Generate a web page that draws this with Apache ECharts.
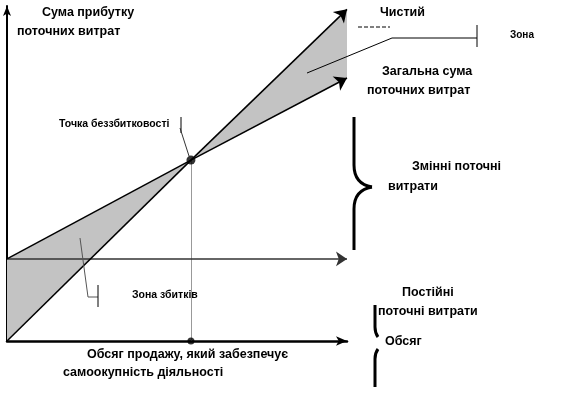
<!DOCTYPE html>
<html>
<head>
<meta charset="utf-8">
<script src="https://cdn.jsdelivr.net/npm/echarts@6/dist/echarts.min.js"></script>
<style>html,body{margin:0;padding:0;background:#fff}#c{width:581px;height:397px}</style>
</head>
<body>
<div id="c"></div>
<script>
// Data (volume in arbitrary units, amounts in arbitrary units)
var volume = [0, 5.41, 10];
var revenue = [0, 54, 99];
var totalCost = [24.5, 54, 78.5];
var fixedCost = [24.5, 24.5, 24.5];
var breakEven = [5.41, 54];

function pts(xs, ys) { return xs.map(function (x, i) { return [x, ys[i]]; }); }
function seg(xs, ys, i) { return { coords: [[xs[i], ys[i]], [xs[i + 1], ys[i + 1]]] }; }

var FONT = '"Liberation Sans", Arial, sans-serif';
function txt(x, y, s, size) {
  return { type: 'text', x: x, y: y, z: 10,
    style: { text: s, font: 'bold ' + (size || 12.5) + 'px ' + FONT, fill: '#000', verticalAlign: 'middle', align: 'left' } };
}
function pl(points, w, color, dash) {
  return { type: 'polyline', z: 10, shape: { points: points },
    style: { stroke: color || '#000', lineWidth: w || 1, fill: null, lineDash: dash || null } };
}
function bz(x1, y1, cx, cy, x2, y2, w) {
  return { type: 'bezierCurve', z: 10, shape: { x1: x1, y1: y1, cpx1: cx, cpy1: cy, x2: x2, y2: y2 },
    style: { stroke: '#000', lineWidth: w || 3, fill: null } };
}

var chart = echarts.init(document.getElementById('c'));
chart.setOption({
  animation: false,
  grid: { left: 7, right: 234, top: 6, bottom: 56 },
  xAxis: { type: 'value', min: 0, max: 10,
    axisLine: { show: true, onZero: false, symbol: ['none', 'arrow'], symbolSize: [7, 11],
      lineStyle: { color: '#000', width: 2.5 } },
    axisTick: { show: false }, axisLabel: { show: false }, splitLine: { show: false } },
  yAxis: { type: 'value', min: 0, max: 100,
    axisLine: { show: true, onZero: false, symbol: ['none', 'arrow'], symbolSize: [6, 10],
      lineStyle: { color: '#000', width: 2 } },
    axisTick: { show: false }, axisLabel: { show: false }, splitLine: { show: false } },
  series: [
    { type: 'custom', z: 1, data: [0],
      renderItem: function (params, api) {
        var rL = api.coord(pts(volume, revenue)[0]), cL = api.coord(pts(volume, totalCost)[0]);
        var b = api.coord(breakEven);
        var rR = api.coord(pts(volume, revenue)[2]), cR = api.coord(pts(volume, totalCost)[2]);
        var st = { fill: '#c3c3c3', stroke: null };
        return { type: 'group', children: [
          { type: 'polygon', shape: { points: [cL, b, rL] }, style: st },
          { type: 'polygon', shape: { points: [b, rR, cR] }, style: st }
        ] };
      } },
    { type: 'lines', coordinateSystem: 'cartesian2d', z: 3,
      symbol: ['none', 'arrow'], symbolSize: [8, 11],
      lineStyle: { color: '#333', width: 1.5, opacity: 1 },
      data: [{ coords: [[volume[0], fixedCost[0]], [volume[2], fixedCost[2]]] }] },
    { type: 'lines', coordinateSystem: 'cartesian2d', z: 4, symbol: 'none',
      lineStyle: { color: '#000', width: 1.5, opacity: 1 },
      data: [seg(volume, revenue, 0), seg(volume, totalCost, 0)] },
    { type: 'lines', coordinateSystem: 'cartesian2d', z: 4,
      symbol: ['none', 'arrow'], symbolSize: [8, 12],
      lineStyle: { color: '#000', width: 1.5, opacity: 1 },
      data: [seg(volume, revenue, 1), seg(volume, totalCost, 1)] },
    { type: 'lines', coordinateSystem: 'cartesian2d', z: 2, symbol: 'none',
      lineStyle: { color: '#999', width: 1, opacity: 1 },
      data: [{ coords: [breakEven, [breakEven[0], 0]] }] },
    { type: 'scatter', z: 5, symbolSize: function (v, p) { return p.dataIndex === 0 ? 9 : 7; },
      itemStyle: { color: '#000' },
      data: [breakEven, [breakEven[0], 0]] }
  ],
  graphic: [
    txt(42, 13, 'Сума прибутку'),
    txt(17, 32, 'поточних витрат'),
    txt(380, 13, 'Чистий'),
    pl([[358, 27], [390, 27]], 1, '#000', [4, 2]),
    pl([[307, 73], [392, 38], [477, 38]], 1, '#000'),
    pl([[477, 25], [477, 47]], 1, '#000'),
    txt(510, 35, 'Зона', 10),
    txt(382, 72, 'Загальна сума'),
    txt(367, 91, 'поточних витрат'),
    txt(59, 124, 'Точка беззбитковості', 10.5),
    pl([[181, 117], [181, 133]], 1, '#000'),
    pl([[180, 128], [189, 156]], 1, '#333'),
    pl([[354, 117], [354, 165]], 3, '#000'),
    bz(354, 165, 354, 184, 372, 187),
    bz(372, 187, 354, 190, 354, 209),
    pl([[354, 209], [354, 250]], 3, '#000'),
    txt(412, 167, 'Змінні поточні'),
    txt(388, 187, 'витрати'),
    txt(402, 293, 'Постійні'),
    txt(378, 312, 'поточні витрати'),
    pl([[375, 305], [375, 327]], 3, '#000'),
    bz(375, 327, 375, 333, 378, 337),
    bz(378, 349, 375, 353, 375, 359),
    pl([[375, 359], [375, 387]], 3, '#000'),
    txt(385, 342, 'Обсяг'),
    txt(132, 295, 'Зона збитків', 10.5),
    pl([[80, 238], [88, 297], [98, 297]], 1, '#555'),
    pl([[98, 285], [98, 307]], 1, '#000'),
    txt(87, 355, 'Обсяг продажу, який забезпечує'),
    txt(63, 373, 'самоокупність діяльності')
  ]
});
</script>
</body>
</html>
